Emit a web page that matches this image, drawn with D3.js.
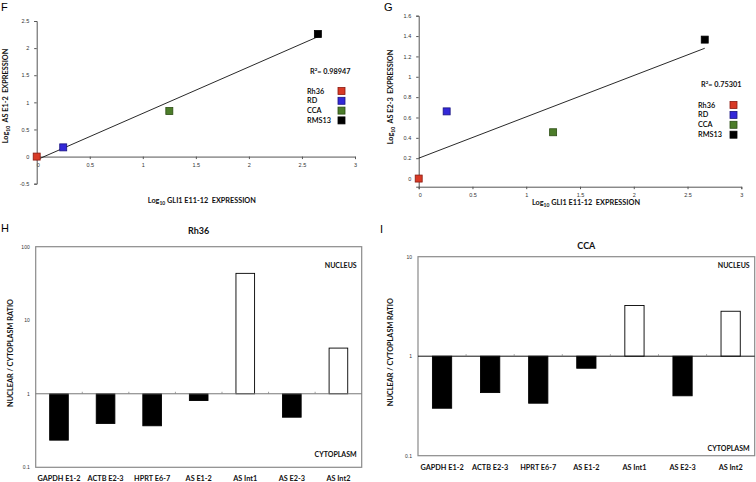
<!DOCTYPE html>
<html>
<head>
<meta charset="utf-8">
<script src="https://cdn.jsdelivr.net/npm/d3@7"></script>
<style>
  body { margin: 0; background: #fff; }
  svg { display: block; font-family: Lato, "Open Sans", sans-serif; }
  .tick text { fill: #333; }
</style>
</head>
<body>
<svg id="vis" width="756" height="482"></svg>
<script>
// scatter data: log10 GLI1 E11-12 vs log10 AS expression
var lines = ["Rh36", "RD", "CCA", "RMS13"],
    lineColors = ["#d83a26", "#3328d8", "#4c7d2a", "#000000"],
    lineStrokes = ["#8a1a10", "#1a1480", "#2c4d14", "#000000"];

var gliF = [0, 0.25, 1.25, 2.65],
    asE12 = [0, 0.17, 0.84, 2.26],
    trendF = [[0, -0.06], [2.65, 2.21]],
    r2F = "0.98947";

var gliG = [0, 0.26, 1.25, 2.66],
    asE23 = [0, 0.66, 0.455, 1.365],
    trendG = [[0, 0.2], [2.66, 1.28]],
    r2G = "0.75301";

var xTicks = [0, 0.5, 1, 1.5, 2, 2.5, 3],
    yTicksF = [-0.5, 0, 0.5, 1, 1.5, 2, 2.5],
    yTicksG = [0, 0.2, 0.4, 0.6, 0.8, 1, 1.2, 1.4, 1.6];

// nuclear / cytoplasm ratios
var genes = ["GAPDH E1-2", "ACTB E2-3", "HPRT E6-7", "AS E1-2", "AS Int1", "AS E2-3", "AS Int2"];
var ratioRh36 = [0.234, 0.395, 0.367, 0.81, 43.4, 0.48, 4.18],
    ratioCCA = [0.30, 0.431, 0.337, 0.757, 3.23, 0.40, 2.83];
var logTicksH = [0.1, 1, 10, 100],
    logTicksI = [0.1, 1, 10];

var svg = d3.select("#vis");

function label(txt, x, y) {
  svg.append("text").attr("x", x).attr("y", y)
    .attr("font-family", "Liberation Sans, sans-serif")
    .attr("font-size", 11).text(txt);
}

function axisTitle(g, x, y, rot, pre, rest) {
  var t = g.append("text")
      .attr("transform", "translate(" + x + "," + y + ")" + (rot ? " rotate(-90)" : ""))
      .attr("text-anchor", "middle")
      .attr("font-size", 7.3)
      .attr("font-weight", "bold")
      .attr("fill", "#111")
      .attr("xml:space", "preserve");
  t.append("tspan").text(pre);
  if (rest !== undefined) {
    t.append("tspan").attr("font-size", 5).attr("dy", 2).text("10");
    t.append("tspan").attr("dy", -2).text(rest);
  }
}

function scatter(o) {
  var g = svg.append("g");
  var x = d3.scaleLinear().domain([0, 3]).range(o.xr),
      y = d3.scaleLinear().domain(o.yd).range(o.yr);

  var ax = g.append("g")
      .attr("transform", "translate(0," + y(o.yd[0] < -0.2 ? 0 : o.yd[0]) + ")")
      .call(d3.axisBottom(x).tickValues(xTicks).tickSize(2.5).tickPadding(4).tickFormat(String));
  var ay = g.append("g")
      .attr("transform", "translate(" + x(0) + ",0)")
      .call(d3.axisLeft(y).tickValues(o.yTicks).tickSize(2.5).tickPadding(5).tickFormat(String));
  [ax, ay].forEach(function(a) {
    a.select(".domain").attr("stroke", "#555");
    a.selectAll(".tick line").attr("stroke", "#555");
    a.selectAll(".tick text").attr("font-size", 5.5);
  });
  ax.select(".tick text").attr("dx", 1);

  g.append("line")
      .attr("x1", x(o.trend[0][0])).attr("y1", y(o.trend[0][1]))
      .attr("x2", x(o.trend[1][0])).attr("y2", y(o.trend[1][1]))
      .attr("stroke", "#111").attr("stroke-width", 0.9);

  var s = 7;
  g.selectAll("rect.pt")
      .data(o.xs)
    .enter().append("rect")
      .attr("x", function(d) { return x(d) - s / 2; })
      .attr("y", function(d, i) { return y(o.ys[i]) - s / 2; })
      .attr("width", s).attr("height", s)
      .attr("fill", function(d, i) { return lineColors[i]; })
      .attr("stroke", function(d, i) { return lineStrokes[i]; })
      .attr("stroke-width", 0.8);

  var r = g.append("text").attr("x", o.r2x).attr("y", o.r2y)
      .attr("font-size", 7.3).attr("font-weight", "bold").attr("fill", "#111");
  r.append("tspan").text("R");
  r.append("tspan").attr("font-size", 4.5).attr("dy", -3).text("2");
  r.append("tspan").attr("dy", 3).text("= " + o.r2);

  var lg = g.selectAll("g.lg")
      .data(lines)
    .enter().append("g")
      .attr("transform", function(d, i) { return "translate(" + o.lgx + "," + (o.lgy + i * o.lgs) + ")"; });
  lg.append("text").attr("y", 2.5).attr("font-size", 7.3).attr("font-weight", 600)
      .attr("fill", "#000").text(function(d) { return d; });
  lg.append("rect").attr("x", o.lgb).attr("y", -3.5).attr("width", 7).attr("height", 7)
      .attr("fill", function(d, i) { return lineColors[i]; })
      .attr("stroke", function(d, i) { return lineStrokes[i]; })
      .attr("stroke-width", 0.8);

  axisTitle(g, (o.xr[0] + o.xr[1]) / 2 + 6, o.xty, false, "Log", " GLI1 E11-12  EXPRESSION");
  axisTitle(g, o.ytx, o.yty, true, "Log", o.ytitle);
}

scatter({
  xr: [36.7, 355], yd: [-0.5, 2.5], yr: [183.7, 21], yTicks: yTicksF,
  xs: gliF, ys: asE12, trend: trendF, r2: r2F,
  r2x: 310, r2y: 74, lgx: 307, lgy: 91, lgs: 9.8, lgb: 31,
  xty: 203, ytx: 8, yty: 96, ytitle: "  AS E1-2  EXPRESSION"
});
scatter({
  xr: [418.7, 741.3], yd: [-0.08, 1.6], yr: [186.7, 15.7], yTicks: yTicksG,
  xs: gliG, ys: asE23, trend: trendG, r2: r2G,
  r2x: 701, r2y: 87, lgx: 698, lgy: 105, lgs: 9.9, lgb: 32,
  xty: 205, ytx: 393, yty: 97, ytitle: "  AS E2-3  EXPRESSION"
});

function bars(o) {
  var g = svg.append("g");
  var x = d3.scaleBand().domain(genes).range(o.xr),
      y = d3.scaleLog().domain(o.yd).range(o.yr);
  var bw = x.bandwidth() * 0.4;

  g.append("rect")
      .attr("x", o.xr[0]).attr("y", o.yr[1])
      .attr("width", o.xr[1] - o.xr[0]).attr("height", o.yr[0] - o.yr[1])
      .attr("fill", "none").attr("stroke", "#8a8a8a").attr("stroke-width", 1.2);

  var ay = g.append("g")
      .attr("transform", "translate(" + o.xr[0] + ",0)")
      .call(d3.axisLeft(y).tickValues(o.ticks).tickSize(0).tickPadding(6).tickFormat(String));
  ay.select(".domain").remove();
  ay.selectAll(".tick text").attr("font-size", 5);

  g.selectAll("rect.bar")
      .data(o.vals)
    .enter().append("rect")
      .attr("x", function(d, i) { return x(genes[i]) + (x.bandwidth() - bw) / 2; })
      .attr("y", function(d) { return y(Math.max(d, 1)); })
      .attr("width", bw)
      .attr("height", function(d) { return Math.abs(y(d) - y(1)); })
      .attr("fill", function(d) { return d < 1 ? "#000" : "#fff"; })
      .attr("stroke", "#000").attr("stroke-width", 0.9);

  g.append("line")
      .attr("x1", o.xr[0]).attr("x2", o.xr[1])
      .attr("y1", y(1)).attr("y2", y(1))
      .attr("stroke", o.baseColor).attr("stroke-width", 1);
  g.selectAll("line.tk")
      .data(genes.slice(1))
    .enter().append("line")
      .attr("x1", function(d) { return x(d); }).attr("x2", function(d) { return x(d); })
      .attr("y1", y(1) - 2).attr("y2", y(1))
      .attr("stroke", "#888").attr("stroke-width", 0.8);

  g.selectAll("text.cat")
      .data(genes)
    .enter().append("text")
      .attr("x", function(d) { return x(d) + x.bandwidth() / 2; })
      .attr("y", o.caty)
      .attr("text-anchor", "middle")
      .attr("font-size", 7.3).attr("font-weight", "bold").attr("fill", "#111")
      .text(function(d) { return d; });

  g.append("text").attr("x", (o.xr[0] + o.xr[1]) / 2).attr("y", o.ty)
      .attr("text-anchor", "middle").attr("font-size", 9).attr("font-weight", "bold")
      .attr("fill", "#111").text(o.title);
  g.append("text").attr("x", o.xr[1] - 5).attr("y", o.ny)
      .attr("text-anchor", "end").attr("font-size", 7).attr("font-weight", "bold")
      .attr("fill", "#111").text("NUCLEUS");
  g.append("text").attr("x", o.xr[1] - 5).attr("y", o.cy)
      .attr("text-anchor", "end").attr("font-size", 7).attr("font-weight", "bold")
      .attr("fill", "#111").text("CYTOPLASM");
  axisTitle(g, o.ytx, (o.yr[0] + o.yr[1]) / 2 - 4, true, "NUCLEAR / CYTOPLASM RATIO");
}

bars({
  xr: [35.7, 361.7], yd: [0.1, 100], yr: [467.3, 246.7], ticks: logTicksH,
  vals: ratioRh36, baseColor: "#777", title: "Rh36",
  ty: 234, ny: 268, cy: 457, caty: 481, ytx: 13
});
bars({
  xr: [418, 754.7], yd: [0.1, 10], yr: [455.7, 256.7], ticks: logTicksI,
  vals: ratioCCA, baseColor: "#111", title: "CCA",
  ty: 249, ny: 268, cy: 451, caty: 470, ytx: 393
});

label("F", 1, 11);
label("G", 384, 11);
label("H", 1, 232);
label("I", 380, 233);
</script>
</body>
</html>
